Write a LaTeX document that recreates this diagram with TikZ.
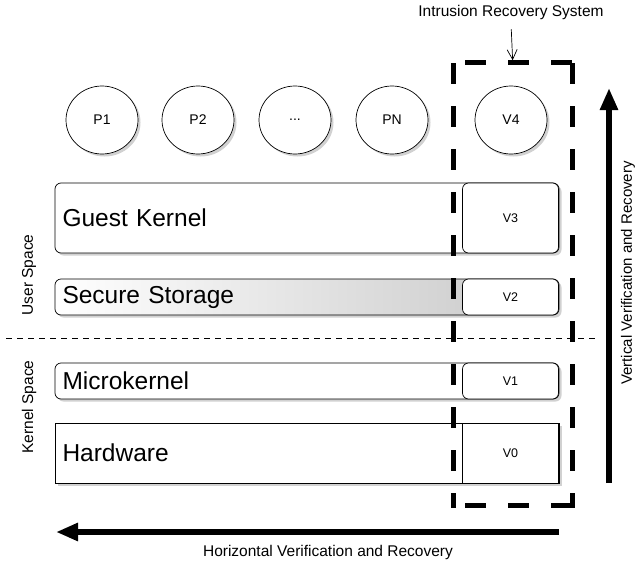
\documentclass[tikz,border=0pt]{standalone}
\usepackage{fontspec}
\setmainfont{Liberation Sans}
\usetikzlibrary{arrows.meta,shadows,shapes.geometric}
\begin{document}
\begin{tikzpicture}[x=1pt,y=-1pt,
  shd/.style={drop shadow={shadow xshift=2.5pt,shadow yshift=-2.5pt,opacity=0.3,fill=black!60}},
  proc/.style={ellipse,draw,line width=0.7pt,fill=white,minimum width=72pt,minimum height=68pt,inner sep=0pt,font=\fontsize{14}{16}\selectfont,shd},
  bar/.style={draw,line width=0.7pt,fill=white,rounded corners=6pt,inner xsep=7.5pt,inner ysep=0pt,align=left,text width=489pt,minimum width=504pt,font=\fontsize{24.5}{28}\selectfont,shd},
  vbox/.style={draw,line width=0.7pt,fill=white,rounded corners=6pt,minimum width=96pt,inner sep=0pt,font=\fontsize{12.5}{14}\selectfont},
  lbl/.style={font=\fontsize{15.5}{18}\selectfont},
  irsline/.style={line width=5pt,line cap=rect,dash pattern=on 16.5pt off 26.5pt,dash phase=-2.5pt},
  bigarrow/.style={line width=6pt,-{Triangle[length=22pt,width=17pt]}}
]
\useasboundingbox (0,0) rectangle (637,562);

% processes
\node[proc] (p1) at (102,120) {P1};
\node[proc] (p2) at (198,120) {P2};
\node[proc] (pd) at (295,120) {...};
\node[proc] (pn) at (392,120) {PN};
\node[proc] (v4) at (511,120) {V4};

% layers
\node[bar,minimum height=70pt] (gk) at (307,218) {Guest Kernel};
\node[vbox,minimum height=70pt] (v3) at (510.5,218) {V3};

\node[bar,minimum height=36pt,left color=white,middle color=black!7,right color=black!22] (ss) at (307,297) {Secure Storage};
\node[vbox,minimum height=36pt] (v2) at (510.5,297) {V2};

\node[bar,minimum height=36pt] (mk) at (307,381) {Microkernel};
\node[vbox,minimum height=36pt] (v1) at (510.5,381) {V1};

\node[bar,minimum height=60pt,rounded corners=0pt] (hw) at (307,453) {Hardware};
\node[vbox,minimum height=60pt,rounded corners=0pt] (v0) at (510.5,453) {V0};

% separator
\coordinate (sepl) at (6,338);
\coordinate (sepr) at (596,338);
\draw[line width=0.8pt,dash pattern=on 6pt off 5pt] (sepl) -- (sepr);

% side labels
\node[lbl,rotate=90] (us) at (29,275) {User Space};
\node[lbl,rotate=90] (ks) at (29,407) {Kernel Space};

% intrusion recovery system box
\node[minimum width=118.5pt,minimum height=442pt,inner sep=0pt] (irs) at (512.75,284) {};
\draw[irsline] (irs.north east) -- (irs.north west);
\draw[irsline] (irs.north west) -- (irs.south west);
\draw[irsline] (irs.north east) -- (irs.south east);
\draw[irsline] (irs.south east) -- (irs.south west);
\node[lbl] (irsl) at (511,12.5) {Intrusion Recovery System};
\draw[line width=0.7pt,-{Straight Barb[length=10pt,width=10pt]},shorten <=6pt,shorten >=2.5pt] (irsl.south) -- (irs.north);

% big arrows
\coordinate (vs) at (609,483);
\coordinate (ve) at (609,88);
\draw[bigarrow] (vs) -- (ve);
\node[lbl,rotate=90,font=\fontsize{15}{17}\selectfont,inner sep=1pt] (vl) at (628,273) {Vertical Verification and Recovery};

\coordinate (hs) at (559,532);
\coordinate (he) at (56,532);
\draw[bigarrow] (hs) -- (he);
\node[lbl] (hl) at (328,552) {Horizontal Verification and Recovery};
\end{tikzpicture}
\end{document}
